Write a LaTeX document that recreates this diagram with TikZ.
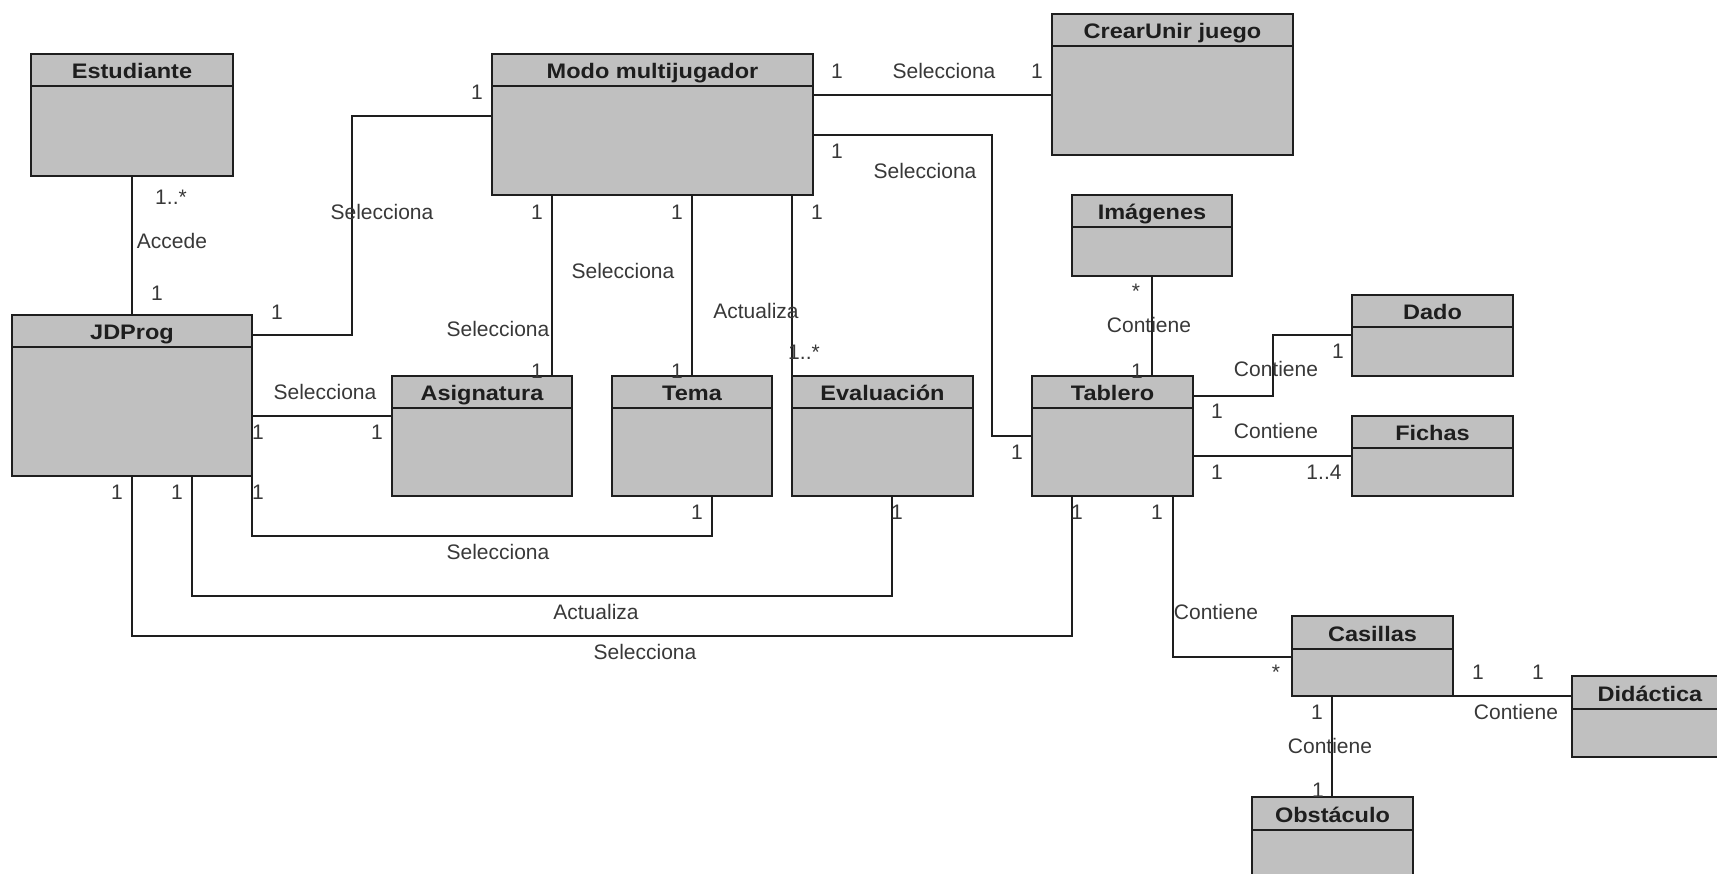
\documentclass[tikz,border=0pt]{standalone}
\usepackage{fontspec}
\setmainfont{Liberation Sans}
\newfontfamily\clsfont[FakeStretch=1.12]{Liberation Sans}
\usetikzlibrary{calc}
\definecolor{boxfill}{HTML}{C0C0C0}
\definecolor{ink}{HTML}{1E1E1E}
\definecolor{labelink}{HTML}{383838}

% a UML class: name, top-left x, top-left y, width, height, title
\newcommand\umlclass[6]{%
  \node[cls, minimum width=#4pt, minimum height=#5pt] (#1) at (#2,#3) {};
  \draw[clsline] ([yshift=-32.5pt]#1.north west) -- ([yshift=-32.5pt]#1.north east);
  \node[clstitle] (#1-t) at ([yshift=-25pt]#1.north) {#6};
}

\begin{document}
\begin{tikzpicture}[
  x=1pt, y=-1pt,
  cls/.style={draw=ink, line width=2pt, fill=boxfill, inner sep=0pt, outer sep=0pt, anchor=north west},
  clsline/.style={draw=ink, line width=2pt},
  clstitle/.style={anchor=base, inner sep=0pt, text=ink,
    font=\clsfont\bfseries\fontsize{21pt}{25pt}\selectfont},
  assoc/.style={draw=ink, line width=1.6pt},
  lbl/.style={inner sep=0pt, text=labelink, font=\fontsize{21pt}{25pt}\selectfont},
]
\useasboundingbox (0,0) rectangle (1717,874);
\clip (0,0) rectangle (1717,874);

% ---------- classes ----------
\umlclass{est}{31}{54}{202}{122}{Estudiante}
\umlclass{jd}{12}{315}{240}{161}{JDProg}
\umlclass{modo}{492}{54}{321}{141}{Modo multijugador}
\umlclass{crear}{1052}{14}{241}{141}{CrearUnir juego}
\umlclass{img}{1072}{195}{160}{81}{Imágenes}
\umlclass{dado}{1352}{295}{161}{81}{Dado}
\umlclass{fichas}{1352}{416}{161}{80}{Fichas}
\umlclass{asig}{392}{376}{180}{120}{Asignatura}
\umlclass{tema}{612}{376}{160}{120}{Tema}
\umlclass{eval}{792}{376}{181}{120}{Evaluación}
\umlclass{tab}{1032}{376}{161}{120}{Tablero}
\umlclass{cas}{1292}{616}{161}{80}{Casillas}
\umlclass{did}{1572}{676}{156}{81}{Didáctica}
\umlclass{obs}{1252}{797}{161}{81}{Obstáculo}

% ---------- associations ----------
\draw[assoc] (est.south) -- (jd.north);
\draw[assoc] ([yshift=-20pt]jd.north east) -| ([xshift=-140pt,yshift=-62pt]modo.north west) -- ([yshift=-62pt]modo.north west);
\draw[assoc] ([yshift=-101pt]jd.north east) -- ([yshift=-40pt]asig.north west);
\draw[assoc] (jd.south east) -- ++(0,60) -| ([xshift=100pt]tema.south west);
\draw[assoc] ([xshift=180pt]jd.south west) -- ++(0,120) -| ([xshift=100pt]eval.south west);
\draw[assoc] ([xshift=120pt]jd.south west) -- ++(0,160) -| ([xshift=40pt]tab.south west);
\draw[assoc] ([xshift=60pt]modo.south west) -- ([xshift=160pt]asig.north west);
\draw[assoc] ([xshift=200pt]modo.south west) -- ([xshift=80pt]tema.north west);
\draw[assoc] ([xshift=300pt]modo.south west) -- (eval.north west);
\draw[assoc] ([yshift=-41pt]modo.north east) -- ([yshift=-81pt]crear.north west);
\draw[assoc] ([yshift=-81pt]modo.north east) -| ([xshift=-40pt,yshift=-60pt]tab.north west) -- ([yshift=-60pt]tab.north west);
\draw[assoc] (img.south) -- (img.south |- tab.north);
\draw[assoc] ([yshift=-20pt]tab.north east) -| ([xshift=-79pt,yshift=-40pt]dado.north west) -- ([yshift=-40pt]dado.north west);
\draw[assoc] ([yshift=-80pt]tab.north east) -- ([yshift=-40pt]fichas.north west);
\draw[assoc] ([xshift=-20pt]tab.south east) |- ([yshift=-41pt]cas.north west);
\draw[assoc] (cas.south east) -- ([yshift=-20pt]did.north west);
\draw[assoc] ([xshift=40pt]cas.south west) -- ([xshift=80pt]obs.north west);

% ---------- multiplicities and role names ----------
% Estudiante - JDProg
\node[lbl] (a1) at (171,197) {1..*};
\node[lbl] (a2) at (172,241) {Accede};
\node[lbl] (a3) at (157,293) {1};
% JDProg - Modo multijugador
\node[lbl] (b1) at (277,312) {1};
\node[lbl] (b2) at (382,212) {Selecciona};
\node[lbl] (b3) at (477,92) {1};
% JDProg - Asignatura
\node[lbl] (c1) at (325,392) {Selecciona};
\node[lbl] (c2) at (258,432) {1};
\node[lbl] (c3) at (377,432) {1};
% JDProg - Tema
\node[lbl] (d1) at (258,492) {1};
\node[lbl] (d2) at (697,512) {1};
\node[lbl] (d3) at (498,552) {Selecciona};
% JDProg - Evaluacion
\node[lbl] (e1) at (177,492) {1};
\node[lbl] (e2) at (897,512) {1};
\node[lbl] (e3) at (596,612) {Actualiza};
% JDProg - Tablero
\node[lbl] (f1) at (117,492) {1};
\node[lbl] (f2) at (1077,512) {1};
\node[lbl] (f3) at (645,652) {Selecciona};
% Modo multijugador - Asignatura
\node[lbl] (g1) at (537,212) {1};
\node[lbl] (g2) at (498,329) {Selecciona};
\node[lbl] (g3) at (537,371) {1};
% Modo multijugador - Tema
\node[lbl] (h1) at (677,212) {1};
\node[lbl] (h2) at (623,271) {Selecciona};
\node[lbl] (h3) at (677,371) {1};
% Modo multijugador - Evaluacion
\node[lbl] (i1) at (817,212) {1};
\node[lbl] (i2) at (756,311) {Actualiza};
\node[lbl] (i3) at (804,352) {1..*};
% Modo multijugador - CrearUnir juego
\node[lbl] (j1) at (837,71) {1};
\node[lbl] (j2) at (944,71) {Selecciona};
\node[lbl] (j3) at (1037,71) {1};
% Modo multijugador - Tablero
\node[lbl] (k1) at (837,151) {1};
\node[lbl] (k2) at (925,171) {Selecciona};
\node[lbl] (k3) at (1017,452) {1};
% Imagenes - Tablero
\node[lbl] (l1) at (1136,291) {*};
\node[lbl] (l2) at (1149,325) {Contiene};
\node[lbl] (l3) at (1137,371) {1};
% Tablero - Dado
\node[lbl] (m1) at (1217,411) {1};
\node[lbl] (m2) at (1276,369) {Contiene};
\node[lbl] (m3) at (1338,351) {1};
% Tablero - Fichas
\node[lbl] (n1) at (1217,472) {1};
\node[lbl] (n2) at (1276,431) {Contiene};
\node[lbl] (n3) at (1324,472) {1..4};
% Tablero - Casillas
\node[lbl] (o1) at (1157,512) {1};
\node[lbl] (o2) at (1216,612) {Contiene};
\node[lbl] (o3) at (1276,672) {*};
% Casillas - Didactica
\node[lbl] (p1) at (1478,672) {1};
\node[lbl] (p2) at (1516,712) {Contiene};
\node[lbl] (p3) at (1538,672) {1};
% Casillas - Obstaculo
\node[lbl] (q1) at (1317,712) {1};
\node[lbl] (q2) at (1330,746) {Contiene};
\node[lbl] (q3) at (1318,790) {1};
\end{tikzpicture}
\end{document}
